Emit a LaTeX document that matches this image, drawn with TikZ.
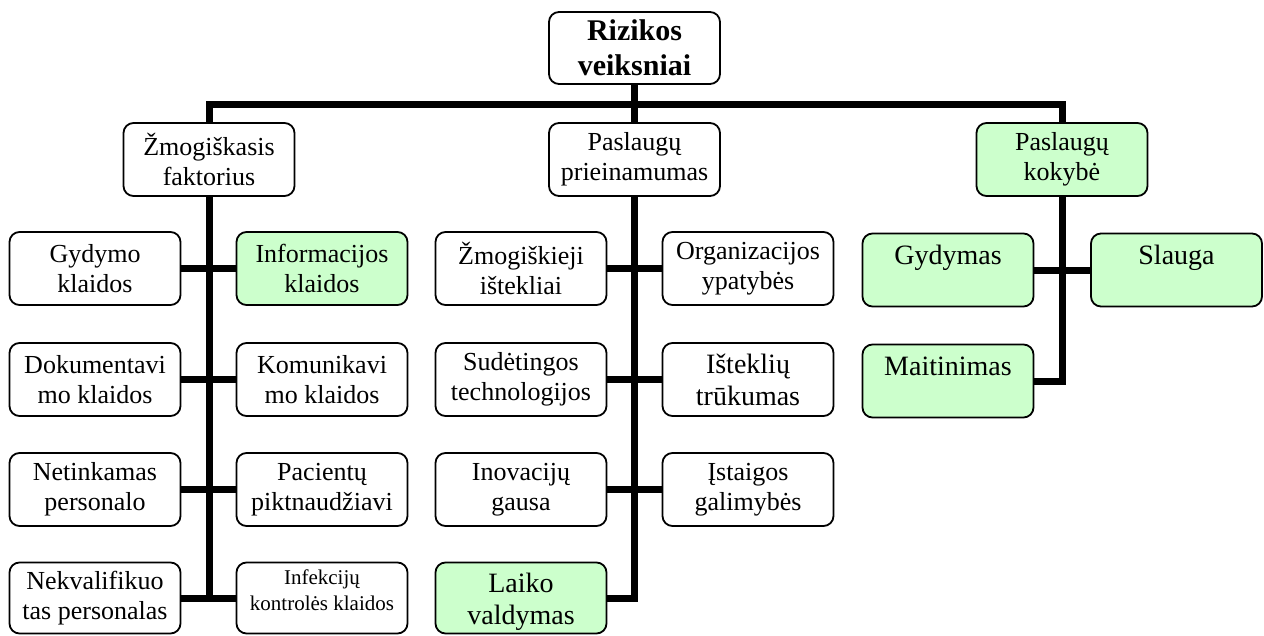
\documentclass[tikz,border=0pt]{standalone}
\usepackage{fontspec}
\setmainfont{Liberation Serif}
\definecolor{boxgreen}{HTML}{CCFFCC}
\begin{document}
\begin{tikzpicture}[x=1pt,y=-1pt,
  box/.style={draw, line width=1.8pt, rounded corners=10pt, fill=white,
    minimum width=171pt, minimum height=73pt, inner sep=0pt, align=center,
    font=\fontsize{26}{30}\selectfont},
  greenbox/.style={box, fill=boxgreen},
  bigtext/.style={font=\fontsize{28}{32}\selectfont},
  smalltext/.style={font=\fontsize{21}{26}\selectfont},
  topalign/.style={minimum height=0pt, text height=31pt, text depth=42pt, font=\fontsize{28}{32}\selectfont},
  conn/.style={line width=7pt, line join=miter}]
\useasboundingbox (0,0) rectangle (1264,635);

% root
\node[box, minimum height=72pt, font={\fontsize{30}{35}\selectfont\bfseries}] (top) at (634.5,48) {Rizikos\\veiksniai};

% level 2
\node[box] (zf) at (209,159.5) {Žmogiškasis\\faktorius};
\node[box] (pp) at (634.5,159.5) {Paslaugų\\prieinamumas};
\node[greenbox] (pk) at (1062,159.5) {Paslaugų\\kokybė};

% left column
\node[box] (a1) at (95,268.5) {Gydymo\\klaidos};
\node[greenbox] (b1) at (322,268.5) {Informacijos\\klaidos};
\node[box] (a2) at (95,379.5) {Dokumentavi\\mo klaidos};
\node[box] (b2) at (322,379.5) {Komunikavi\\mo klaidos};
\node[box] (a3) at (95,489.5) {Netinkamas\\personalo};
\node[box] (b3) at (322,489.5) {Pacientų\\piktnaudžiavi};
\node[box, minimum height=71pt] (a4) at (95,598) {Nekvalifikuo\\tas personalas};
\node[box, minimum height=71pt, smalltext, align=none] (b4) at (322,598)
  {\raisebox{1pt}[0pt][0pt]{\begin{tabular}{@{}c@{}}Infekcijų\\kontrolės klaidos\end{tabular}}};

% middle column
\node[box] (m1) at (521,268.5) {Žmogiškieji\\ištekliai};
\node[box] (n1) at (748,268.5) {Organizacijos\\ypatybės};
\node[box] (m2) at (521,379.5) {Sudėtingos\\technologijos};
\node[box, bigtext] (n2) at (748,379.5) {Išteklių\\trūkumas};
\node[box] (m3) at (521,489.5) {Inovacijų\\gausa};
\node[box] (n3) at (748,489.5) {Įstaigos\\galimybės};
\node[greenbox, minimum height=71pt, bigtext, align=none] (m4) at (521,598)
  {\raisebox{-10pt}[0pt][0pt]{\begin{tabular}{@{}c@{}}Laiko\\valdymas\end{tabular}}};

% right column
\node[greenbox, topalign] (r1) at (948,270) {Gydymas};
\node[greenbox, topalign] (s1) at (1176.5,270) {Slauga};
\node[greenbox, topalign] (r2) at (948,381) {Maitinimas};

% connectors
\coordinate (bar) at (634.5,104);
\draw[conn] (top.south) -- (pp.north);
\draw[conn] (zf.north) -- (zf.north |- bar) -- (pk.north |- bar) -- (pk.north);

\draw[conn] (zf.south) -- (zf.south |- a4.east);
\draw[conn] (a1.east) -- (b1.west);
\draw[conn] (a2.east) -- (b2.west);
\draw[conn] (a3.east) -- (b3.west);
\draw[conn] (a4.east) -- (b4.west);

\draw[conn] (pp.south) |- (m4.east);
\draw[conn] (m1.east) -- (n1.west);
\draw[conn] (m2.east) -- (n2.west);
\draw[conn] (m3.east) -- (n3.west);

\draw[conn] (pk.south) |- (r2.east);
\draw[conn] (r1.east) -- (s1.west);
\end{tikzpicture}
\end{document}
